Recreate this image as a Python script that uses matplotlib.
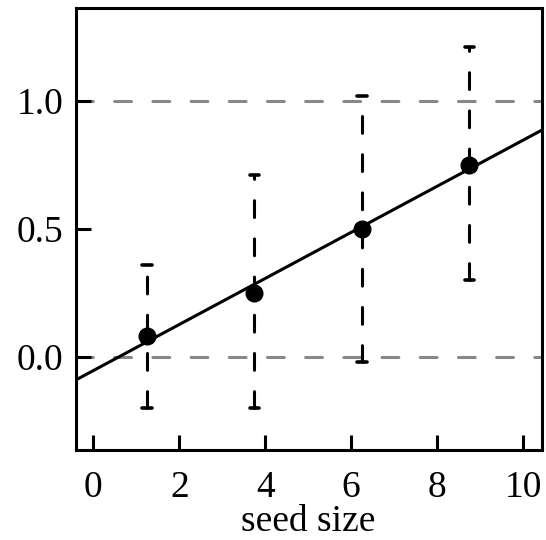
import matplotlib.pyplot as plt

plt.rcParams['font.family'] = ['Liberation Serif', 'DejaVu Serif']

# binned means with their intervals
seed_size = [1.25, 3.75, 6.25, 8.75]
mean_val = [0.08, 0.25, 0.50, 0.75]
lower = [-0.20, -0.20, -0.02, 0.30]
upper = [0.36, 0.71, 1.02, 1.21]

# fitted line
intercept = -0.054
slope = 0.09

xticks = [0, 2, 4, 6, 8, 10]
yticks = [0.0, 0.5, 1.0]

fig = plt.figure(figsize=(5.46, 5.40), dpi=100)
ax = fig.add_axes([0.1386, 0.1667, 0.8534, 0.818])

xlim = (-0.41, 10.43)
ylim = (-0.364, 1.361)

for ref in [0.0, 1.0]:
    ax.axhline(ref, color='#888888', lw=2.2, dashes=(5.5, 7),
               dash_capstyle='round', zorder=1)

xs = list(xlim)
ax.plot(xs, [intercept + slope * x for x in xs], color='black', lw=2.2, zorder=3)

for x, m, lo, hi in zip(seed_size, mean_val, lower, upper):
    ax.plot([x, x], [lo, hi], color='black', lw=2.2, dashes=(5.5, 7),
            dash_capstyle='round', zorder=2)
    for cap in [lo, hi]:
        ax.plot([x - 0.11, x + 0.11], [cap, cap], color='black', lw=2.6,
                solid_capstyle='round', zorder=2)

ax.plot(seed_size, mean_val, 'o', color='black', ms=12, zorder=4)

ax.set_xlim(*xlim)
ax.set_ylim(*ylim)
ax.set_xticks(xticks)
ax.set_yticks(yticks)
ax.set_xticklabels([str(t) for t in xticks])
ax.set_yticklabels(['%.1f' % t for t in yticks])
ax.tick_params(direction='in', length=10.5, width=2.2, labelsize=27)
ax.tick_params(axis='x', pad=15)
ax.tick_params(axis='y', pad=9)
for sp in ax.spines.values():
    sp.set_linewidth(2.2)

ax.set_xlabel('seed size', fontsize=27, va='baseline')
ax.xaxis.set_label_coords(0.5, -0.184)

fig.savefig('out.png', dpi=100)
